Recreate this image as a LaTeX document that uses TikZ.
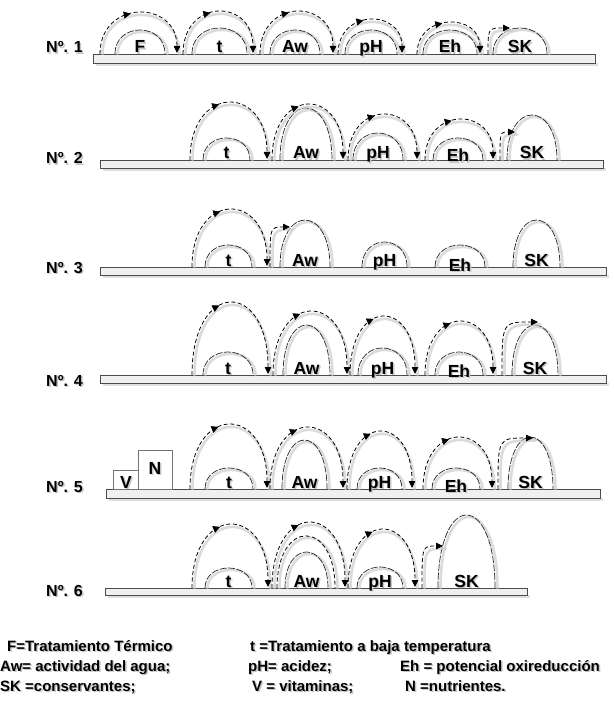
\documentclass[tikz,border=0pt]{standalone}
\usepackage{fontspec}
\setmainfont{Liberation Sans}
\usetikzlibrary{arrows.meta,decorations.markings}
\tikzset{
  shadowline/.style={draw=gray!40, line width=2.6pt, line cap=round, opacity=0.7},
  humpline/.style={draw=black!85, line width=0.7pt, dash pattern=on 7pt off 1.5pt},
  jumpline/.style={draw=black, line width=0.8pt, dash pattern=on 4pt off 2.5pt},
  midarrow/.style={postaction={decorate}, decoration={markings, mark=at position #1 with {\arrow{Triangle[length=7pt,width=7pt]}}}},
  endtip/.style={-{Triangle[length=7pt,width=6.5pt]}},
  lbl/.style={font=\bfseries\fontsize{17.5}{17.5}\selectfont, anchor=base, inner sep=0pt},
  rowlbl/.style={font=\bfseries\fontsize{16}{16}\selectfont, anchor=base west, inner sep=0pt},
  leg/.style={font=\bfseries\fontsize{15}{15}\selectfont, anchor=base west, inner sep=0pt},
  barbox/.style={draw=black!70, fill=gray!12, line width=0.6pt},
  barshadow/.style={fill=gray!25},
  vnbox/.style={draw=black!55, fill=white, line width=0.6pt},
}
\newcommand\hump[6][0]{%
  \pgfmathsetmacro\hc{#4-1.3333*(#4-#5)}%
  \draw[shadowline] ({#2+2.5},{#4}) .. controls ({#2+2.5},{\hc+2.5}) and ({#3+2.5},{\hc+2.5}) .. ({#3+2.5},{#4});
  \draw[humpline] (#2,#4) .. controls (#2,\hc) and (#3,\hc) .. (#3,#4);
  \node[lbl, text=gray!45] at ({(#2+#3)/2+1.5},{#4-1+#1+1.5}) {#6};
  \node[lbl] at ({(#2+#3)/2},{#4-1+#1}) {#6};
}
\newcommand\jump[4]{%
  \pgfmathsetmacro\jc{#3-1.3333*(#3-#4)}%
  \draw[shadowline] ({#1+2.5},{#3}) .. controls ({#1+2.5},{\jc+2.5}) and ({#2+2.5},{\jc+2.5}) .. ({#2+2.5},{#3});
  \draw[jumpline, midarrow=0.44, endtip] (#1,#3) .. controls (#1,\jc) and (#2,\jc) .. (#2,{#3-1});
}
\newcommand\jumpup[4]{%
  \draw[shadowline] ({#1+2.5},{#2}) .. controls ({#1+2.5},{#4+2.5}) .. ({#3+2.5},{#4+2.5});
  \draw[jumpline, endtip] (#1,#2) .. controls (#1,#4) .. (#3,#4);
}
\newcommand\groundbar[4]{%
  \fill[barshadow] ({#1+3},{#4}) rectangle ({#2+3},{#4+3});
  \draw[barbox] (#1,#3) rectangle (#2,#4);
}
\newcommand\shtext[4]{%
  \node[#1, text=gray!45] at ({#2+1.5},{#3+1.5}) {#4};
  \node[#1] at (#2,#3) {#4};
}
\begin{document}
\begin{tikzpicture}[x=1pt,y=-1pt]
\useasboundingbox (0,0) rectangle (613,703);
\fill[white] (0,0) rectangle (613,703);
% Row 1
\shtext{rowlbl}{46}{53}{Nº. 1}
\groundbar{93}{595}{54}{63}
\hump{115}{165}{54}{30}{F}
\hump{192}{247}{54}{28}{t}
\hump{270}{320}{54}{30}{Aw}
\hump{345}{397}{54}{30}{pH}
\hump{423}{477}{54}{30}{Eh}
\hump{493}{547}{54}{28}{SK}
\jump{100}{177}{54}{13}
\jump{183}{253}{54}{12}
\jump{260}{333}{54}{12}
\jump{338}{402}{54}{20}
\jump{417}{480}{54}{23}
\jumpup{488}{54}{510}{28}
% Row 2
\shtext{rowlbl}{46}{164}{Nº. 2}
\groundbar{100}{603}{160}{168}
\hump{203}{250}{160}{138}{t}
\hump{280}{332}{160}{108}{Aw}
\hump{353}{403}{160}{133}{pH}
\hump[3]{433}{483}{160}{138}{Eh}
\hump{507}{557}{160}{115}{SK}
\jump{190}{267}{160}{103}
\jump{272}{343}{160}{105}
\jump{348}{417}{160}{115}
\jump{425}{493}{160}{120}
\jumpup{500}{160}{515}{132}
% Row 3
\shtext{rowlbl}{46}{273}{Nº. 3}
\groundbar{100}{606}{267}{275}
\hump{205}{252}{267}{245}{t}
\hump{280}{330}{267}{220}{Aw}
\hump{362}{407}{267}{242}{pH}
\hump[5]{435}{485}{267}{245}{Eh}
\hump{513}{560}{267}{220}{SK}
\jump{192}{267}{267}{210}
\jumpup{270}{267}{290}{227}
% Row 4
\shtext{rowlbl}{46}{386}{Nº. 4}
\groundbar{100}{606}{375}{383}
\hump{203}{253}{375}{352}{t}
\hump{283}{330}{375}{325}{Aw}
\hump{358}{407}{375}{348}{pH}
\hump[3]{435}{483}{375}{352}{Eh}
\hump{512}{558}{375}{325}{SK}
\jump{192}{268}{375}{303}
\jump{273}{347}{375}{312}
\jump{350}{415}{375}{317}
\jump{425}{493}{375}{322}
\jumpup{502}{375}{538}{322}
% Row 5
\shtext{rowlbl}{46}{492}{Nº. 5}
\groundbar{106}{600}{489}{498}
\draw[vnbox] (113,470) rectangle (138,489);
\draw[vnbox] (138,450) rectangle (172,489);
\shtext{lbl}{126}{488}{V}
\shtext{lbl}{155}{474}{N}
\hump{205}{253}{489}{468}{t}
\hump{282}{327}{489}{440}{Aw}
\hump{357}{402}{489}{468}{pH}
\hump[4]{432}{480}{489}{468}{Eh}
\hump{508}{553}{489}{437}{SK}
\jump{190}{267}{489}{425}
\jump{270}{343}{489}{428}
\jump{347}{412}{489}{432}
\jump{423}{492}{489}{438}
\jumpup{498}{489}{533}{438}
% Row 6
\shtext{rowlbl}{46}{596}{Nº. 6}
\groundbar{105}{527}{588}{595}
\hump{205}{252}{588}{568}{t}
\hump{285}{328}{588}{552}{Aw}
\hump{357}{403}{588}{567}{pH}
\hump{438}{495}{588}{515}{SK}
\draw[shadowline] (279.5,588) .. controls (279.5,521) and (337.5,521) .. (337.5,588);
\draw[jumpline] (277,588) .. controls (277,518.5) and (335,518.5) .. (335,588);
\jump{192}{268}{588}{525}
\jump{272}{345}{588}{523}
\jump{348}{415}{588}{530}
\jumpup{422}{588}{443}{546}
% Legend
\shtext{leg}{7}{651}{F=Tratamiento Térmico}
\shtext{leg}{250}{651}{t =Tratamiento a baja temperatura}
\shtext{leg}{0}{671}{Aw= actividad del agua;}
\shtext{leg}{248}{671}{pH= acidez;}
\shtext{leg}{400}{671}{Eh = potencial oxireducción}
\shtext{leg}{0}{691}{SK =conservantes;}
\shtext{leg}{252}{691}{V = vitaminas;}
\shtext{leg}{405}{691}{N =nutrientes.}
\end{tikzpicture}
\end{document}
